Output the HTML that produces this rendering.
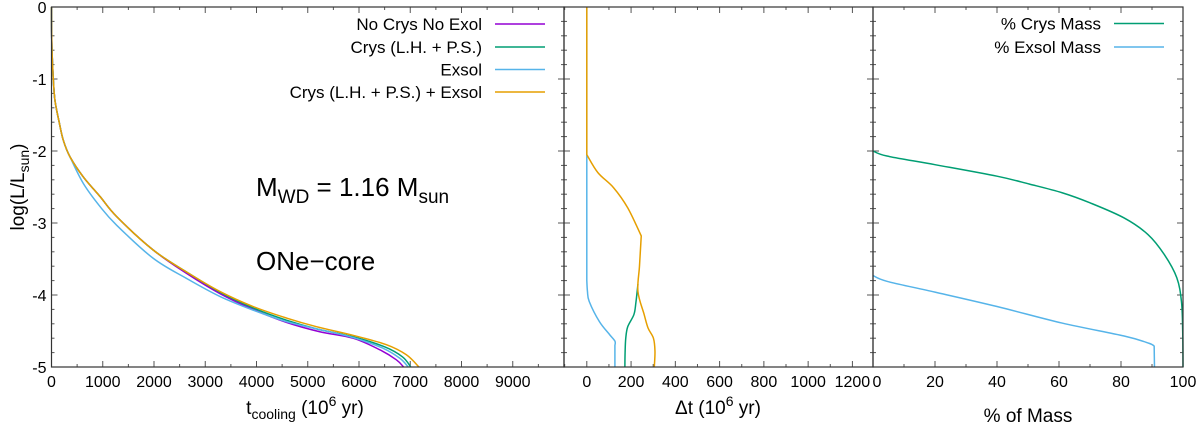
<!DOCTYPE html>
<html><head><meta charset="utf-8"><style>
html,body{margin:0;padding:0;background:#fff;}
svg{display:block;font-family:"Liberation Sans",sans-serif;}
</style></head><body>
<svg id="chart" width="1200" height="435" viewBox="0 0 1200 435" xmlns="http://www.w3.org/2000/svg">
<rect x="0" y="0" width="1200" height="435" fill="#fff"/>
<g id="p1"></g>
<g id="p2"></g>
<g id="p3"></g>
<text x="24" y="187" transform="rotate(-90 24 187)" text-anchor="middle" font-size="19">log(L/L<tspan font-size="14" dy="5">sun</tspan><tspan dy="-5">)</tspan></text>
<text x="305" y="414" text-anchor="middle" font-size="19">t<tspan font-size="14" dy="5">cooling</tspan><tspan dy="-5"> (10</tspan><tspan font-size="14" dy="-8">6</tspan><tspan dy="8"> yr)</tspan></text>
<text x="718" y="414" text-anchor="middle" font-size="19">Δt (10<tspan font-size="14" dy="-8">6</tspan><tspan dy="8"> yr)</tspan></text>
<text x="1028" y="422" text-anchor="middle" font-size="19">% of Mass</text>
<text x="256" y="196" font-size="26">M<tspan font-size="19" dy="7">WD</tspan><tspan dy="-7"> = 1.16 M</tspan><tspan font-size="19" dy="7">sun</tspan></text>
<text x="256" y="270" font-size="26">ONe−core</text>
</svg>
<script>
// ---- data ----
const noCrysL = [0,-0.3,-0.6,-1,-1.3,-1.6,-1.85,-2.08,-2.36,-2.63,-2.91,-3.375,-3.7,-3.98,-4.2,-4.38,-4.51,-4.6,-4.76,-4.9,-5];
const tNoCrys = [0,2,10,35,68,150,230,360,620,945,1270,1984,2635,3285,3934,4585,5234,5883,6403,6729,6870];
const crysL   = [0,-0.3,-0.6,-1,-1.3,-1.6,-1.85,-2.08,-2.36,-2.63,-2.91,-3.375,-3.68,-3.96,-4.18,-4.35,-4.47,-4.58,-4.72,-4.86,-5];
const tCrys   = [0,2,10,35,68,150,230,360,620,945,1270,1984,2635,3285,3934,4585,5170,5883,6500,6850,7010];
const exsolL  = [0,-0.3,-0.6,-1,-1.3,-1.6,-1.85,-2.08,-2.45,-2.77,-3.03,-3.49,-3.77,-4.02,-4.21,-4.37,-4.48,-4.59,-4.74,-4.88,-5];
const tExsol  = [0,2,10,35,68,150,230,360,620,945,1270,1984,2635,3285,3934,4585,5234,5883,6470,6800,6960];
const bothL   = [0,-0.3,-0.6,-1,-1.3,-1.6,-1.85,-2.08,-2.36,-2.63,-2.91,-3.375,-3.68,-3.95,-4.16,-4.32,-4.44,-4.56,-4.69,-4.83,-5];
const tBoth   = [0,2,10,35,68,150,230,360,620,945,1270,1984,2635,3285,3934,4585,5170,5883,6534,6924,7170];

const dtBothL = [0,-2.05,-2.3,-2.51,-2.79,-3.18,-3.6,-3.95,-4.27,-4.46,-4.6,-4.78,-5];
const dtBoth  = [0,0,50,121,185,246,238,231,259,277,301,308,305];
const dtExsolL = [0,-3.8,-3.95,-4.09,-4.37,-4.55,-4.64,-4.7,-5];
const dtExsol  = [0,0,3,11,57,103,127,127,127];
const dtCrysL = [-3.85,-4.1,-4.27,-4.44,-4.6,-4.8,-5];
const dtCrys  = [231,222,213,185,176,173,172];

const crysMassL = [-2,-2.07,-2.19,-2.35,-2.46,-2.58,-2.72,-2.93,-3.16,-3.44,-3.76,-4.09,-4.5,-5];
const crysMass  = [0,4.5,20,40,50.5,61,70,81,88.7,94,98,99.5,99.9,100];
const exsolMassL = [-3.73,-3.81,-3.96,-4.16,-4.39,-4.57,-4.67,-4.71,-5];
const exsolMass  = [0,4.5,20,40,61,81,89,90.7,90.8];

const p1Ticks = [0,1000,2000,3000,4000,5000,6000,7000,8000,9000];
const p2Ticks = [0,200,400,600,800,1000,1200];
const p3Ticks = [20,40,60,80,100];
const yTicks = [0,-1,-2,-3,-4,-5];

const C = {purple:'#9400d3', green:'#009e73', blue:'#56b4e9', orange:'#e69f00'};
const NS='http://www.w3.org/2000/svg';
const TOP=7, BOT=367;
const Y = v => TOP + (0 - v)/5*(BOT-TOP);
function mk(tag, attrs, parent){const e=document.createElementNS(NS,tag);for(const k in attrs)e.setAttribute(k,attrs[k]);parent.appendChild(e);return e;}

function panel(g, x0, x1, dmin, dmax, ticks, minorStep, showY){
  const X = v => x0 + (v-dmin)/(dmax-dmin)*(x1-x0);
  for(let i=0;i<=25;i++){
    const v=-i*0.2;
    const len = (i%5===0)?6:3;
    const t1=mk('line',{x1:x0,x2:x0+len,y1:Y(v),y2:Y(v),stroke:'#555','stroke-width':1},g);
    
    
    const t2=mk('line',{x1:x1,x2:x1-len,y1:Y(v),y2:Y(v),stroke:'#555','stroke-width':1},g);
    
    
  }
  for(let v=Math.ceil(dmin/minorStep)*minorStep; v<=dmax; v+=minorStep){
    const major = ticks.some(t=>Math.abs(t-v)<1e-6);
    const len = major?6:3;
    const a=mk('line',{x1:X(v),x2:X(v),y1:BOT,y2:BOT-len,stroke:'#555','stroke-width':1},g);
    
    
    const b=mk('line',{x1:X(v),x2:X(v),y1:TOP,y2:TOP+len,stroke:'#555','stroke-width':1},g);
    
    
  }
  ticks.forEach(t=>{
    const tx=mk('text',{x:X(t),y:387,'text-anchor':'middle','font-size':16},g);
    tx.textContent=t;
    
    
  });
  if(showY){
    yTicks.forEach(t=>{
      const tx=mk('text',{x:x0-5,y:Y(t)+6,'text-anchor':'end','font-size':16},g);
      tx.textContent=t;
      
      
    });
  }
  return X;
}
function smoothPath(pts, corners){
  const cs = new Set(corners||[]);
  let d='M'+pts[0][0].toFixed(2)+','+pts[0][1].toFixed(2);
  for(let i=0;i<pts.length-1;i++){
    const p1=pts[i], p2=pts[i+1];
    const p0 = (i===0||cs.has(i)) ? p1 : pts[i-1];
    const p3 = (i+2>=pts.length||cs.has(i+1)) ? p2 : pts[i+2];
    const c1=[p1[0]+(p2[0]-p0[0])/6, p1[1]+(p2[1]-p0[1])/6];
    const c2=[p2[0]-(p3[0]-p1[0])/6, p2[1]-(p3[1]-p1[1])/6];
    d+=' C'+c1[0].toFixed(2)+','+c1[1].toFixed(2)+' '+c2[0].toFixed(2)+','+c2[1].toFixed(2)+' '+p2[0].toFixed(2)+','+p2[1].toFixed(2);
  }
  return d;
}
function series(g, X, xs, ys, color, name, corners){
  const pts = xs.map((v,i)=>[X(v),Y(ys[i])]);
  const p=mk('path',{d:smoothPath(pts,corners),fill:'none',stroke:color,'stroke-width':1.5,'stroke-linejoin':'round'},g);
  
  
}
function legend(g, xText, y, label, color, name){
  const tx=mk('text',{x:xText,y:y+6,'text-anchor':'end','font-size':17},g);
  tx.textContent=label;
  
  
  const ln=mk('line',{x1:xText+13,x2:xText+63,y1:y,y2:y,stroke:color,'stroke-width':1.5},g);
  
  
}

const g1=document.getElementById('p1'), g2=document.getElementById('p2'), g3=document.getElementById('p3');
const X1 = panel(g1, 51.5, 564, 0, 10000, p1Ticks, 500, true);
series(g1,X1,tNoCrys,noCrysL,C.purple,'no-crys-no-exol-line');
series(g1,X1,tCrys,crysL,C.green,'crys-line');
series(g1,X1,tExsol,exsolL,C.blue,'exsol-line');
series(g1,X1,tBoth,bothL,C.orange,'crys-exsol-line');
legend(g1,482,24,'No Crys No Exol',C.purple,'legend-no-crys');
legend(g1,482,47,'Crys (L.H. + P.S.)',C.green,'legend-crys');
legend(g1,482,69.5,'Exsol',C.blue,'legend-exsol');
legend(g1,482,92,'Crys (L.H. + P.S.) + Exsol',C.orange,'legend-crys-exsol');

const X2 = panel(g2, 564, 873, -103, 1293, p2Ticks, 100, false);
series(g2,X2,dtExsol,dtExsolL,C.blue,'delta-exsol-line',[1,7]);
series(g2,X2,dtCrys,dtCrysL,C.green,'delta-crys-line',[]);
series(g2,X2,dtBoth,dtBothL,C.orange,'delta-crys-exsol-line',[1,5]);

const X3 = panel(g3, 873, 1183, 0, 100, p3Ticks, 10, false);
const z=mk('text',{x:X3(0)+4,y:387,'text-anchor':'middle','font-size':16},g3);
z.textContent='0';


series(g3,X3,crysMass,crysMassL,C.green,'crys-mass-line');
series(g3,X3,exsolMass,exsolMassL,C.blue,'exsol-mass-line',[7]);
legend(g3,1101,23.5,'% Crys Mass',C.green,'legend-crys-mass');
legend(g3,1101,47,'% Exsol Mass',C.blue,'legend-exsol-mass');

[[51.5,564],[564,873],[873,1183]].forEach(([a,b])=>{
  const r=mk('rect',{x:a,y:TOP,width:b-a,height:BOT-TOP,fill:'none',stroke:'#333','stroke-width':1.2},document.getElementById('chart'));
  
  
});
</script>
</body></html>
